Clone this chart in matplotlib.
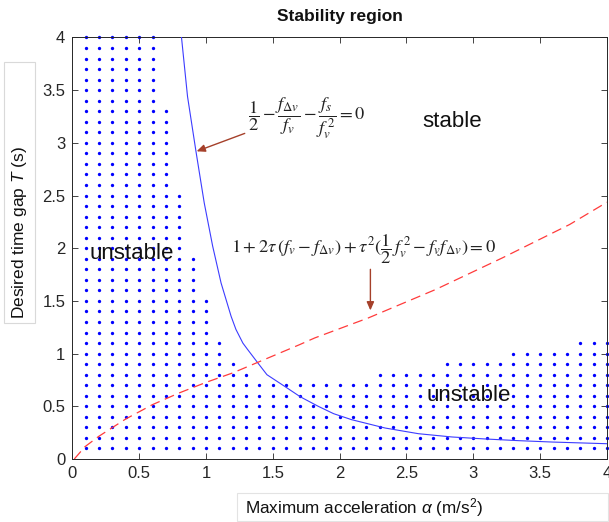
import numpy as np
import matplotlib
matplotlib.use("Agg")
import matplotlib.pyplot as plt
from matplotlib.patches import Rectangle

plt.rcParams['font.family'] = ['Liberation Sans', 'DejaVu Sans']
plt.rcParams['mathtext.fontset'] = 'custom'
plt.rcParams['mathtext.rm'] = 'Liberation Sans'
plt.rcParams['mathtext.it'] = 'Liberation Sans:italic'
plt.rcParams['mathtext.bf'] = 'Liberation Sans:bold'

# ---- data ----
col_a = [0.1, 0.2, 0.3, 0.4, 0.5, 0.6, 0.7, 0.8, 0.9, 1.0,
         1.1, 1.2, 1.3, 1.4, 1.5, 1.6, 1.7, 1.8, 1.9, 2.0,
         2.1, 2.2, 2.3, 2.4, 2.5, 2.6, 2.7, 2.8, 2.9, 3.0,
         3.1, 3.2, 3.3, 3.4, 3.5, 3.6, 3.7, 3.8, 3.9, 4.0]
col_top = [4.0, 4.0, 4.0, 4.0, 4.0, 4.0, 3.3, 2.5, 1.9, 1.5,
           1.1, 0.9, 0.8, 0.7, 0.7, 0.7, 0.7, 0.7, 0.7, 0.7,
           0.7, 0.7, 0.8, 0.8, 0.8, 0.8, 0.8, 0.9, 0.9, 0.9,
           0.9, 0.9, 1.0, 1.0, 1.0, 1.0, 1.0, 1.1, 1.1, 1.1]
dot_step = 0.1

blue_a = [0.817, 0.862, 0.925, 0.987, 1.05, 1.113, 1.188, 1.224, 1.276, 1.311,
          1.389, 1.456, 1.589, 1.706, 1.84, 1.955, 2.09, 2.34, 2.59, 2.84,
          3.09, 3.34, 3.59, 4.0]
blue_T = [4.0, 3.44, 2.92, 2.43, 2.02, 1.67, 1.354, 1.23, 1.10, 1.04,
          0.91, 0.80, 0.689, 0.59, 0.50, 0.43, 0.373, 0.294, 0.24, 0.209,
          0.19, 0.174, 0.161, 0.145]

red_a = [0.015, 0.095, 0.198, 0.40, 0.60, 0.80, 1.0, 1.2, 1.4, 1.7,
         1.814, 2.215, 2.717, 3.218, 3.72, 4.0]
red_T = [0.0, 0.117, 0.215, 0.38, 0.516, 0.627, 0.727, 0.817, 0.924, 1.085,
         1.149, 1.339, 1.608, 1.909, 2.225, 2.437]

xticks = [0, 0.5, 1, 1.5, 2, 2.5, 3, 3.5, 4]
yticks = [0, 0.5, 1, 1.5, 2, 2.5, 3, 3.5, 4]
tick_labels = ['0', '0.5', '1', '1.5', '2', '2.5', '3', '3.5', '4']

# ---- figure ----
fig = plt.figure(figsize=(6.09, 5.22), dpi=100)
ax = fig.add_axes([72.3/609, 1 - 459/522, (607 - 72.3)/609, (459 - 37.5)/522])

dx, dy = [], []
for a, top in zip(col_a, col_top):
    n = int(round(top / dot_step))
    for k in range(1, n + 1):
        dx.append(a)
        dy.append(k * dot_step)
ax.plot(dx, dy, 'o', ms=2.4, color='#0000ff', mec='none', clip_on=False, zorder=2)

ax.plot(blue_a, blue_T, '-', color='#3c3cff', lw=0.8, zorder=3)
ax.plot(red_a, red_T, color='#ff3b3b', lw=0.9, linestyle=(0, (8, 4.5)), zorder=3)

ax.set_xlim(0, 4)
ax.set_ylim(0, 4)
ax.set_xticks(xticks)
ax.set_xticklabels(tick_labels)
ax.set_yticks(yticks)
ax.set_yticklabels(tick_labels)
ax.tick_params(direction='in', length=4, width=0.6, top=True, right=True,
               labelsize=12, colors='#262626', pad=5)
for s in ax.spines.values():
    s.set_color('#262626')
    s.set_linewidth(0.7)

ax.set_title('Stability region', fontsize=12.5, fontweight='bold', pad=12, color='#111111')

# region labels
ax.text(0.125, 1.895, 'unstable', fontsize=16, color='#111111', ha='left', va='baseline')
ax.text(2.65, 0.546, 'unstable', fontsize=16, color='#111111', ha='left', va='baseline')
ax.text(2.84, 3.2, 'stable', fontsize=16, color='#111111', ha='center', va='center')

# formulas
ax.text(1.316, 3.23, r'$\dfrac{1}{2}-\dfrac{f_{\Delta v}}{f_v}-\dfrac{f_s}{f_v^{\,2}}=0$',
        math_fontfamily='stix', fontsize=13.2, ha='left', va='center', color='#222222')
ax.text(1.19, 1.99, r'$1+2\tau\,(f_v-f_{\Delta v})+\tau^2(\dfrac{1}{2}\,f_v^{\,2}-f_v f_{\Delta v})=0$',
        math_fontfamily='stix', fontsize=13.3, ha='left', va='center', color='#222222')

arrow_kw = dict(arrowstyle='-|>,head_length=0.5,head_width=0.22', color='#a5402a', lw=1.0,
                shrinkA=0, shrinkB=0)
ax.annotate('', xy=(0.93, 2.92), xytext=(1.29, 3.09), arrowprops=arrow_kw)
ax.annotate('', xy=(2.23, 1.41), xytext=(2.23, 1.80), arrowprops=arrow_kw)

# axis labels inside light boxes
fig.patches.append(Rectangle((4/609, 1 - 323/522), 31/609, 261/522, transform=fig.transFigure,
                             fill=False, edgecolor='#d9d9d9', lw=0.8))
fig.patches.append(Rectangle((237/609, 1 - 521/522), 371/609, 28/522, transform=fig.transFigure,
                             fill=False, edgecolor='#e3e3e3', lw=0.8))
fig.text(19.5/609, 1 - 232.5/522, 'Desired time gap $T$ (s)', rotation=90, fontsize=12.5,
         ha='center', va='center', color='#111111')
fig.text(245/609, 1 - 508/522, r'Maximum acceleration $\alpha$ (m/s$^2$)', fontsize=12.3,
         ha='left', va='center', color='#111111')

fig.savefig('out.png', dpi=100)
